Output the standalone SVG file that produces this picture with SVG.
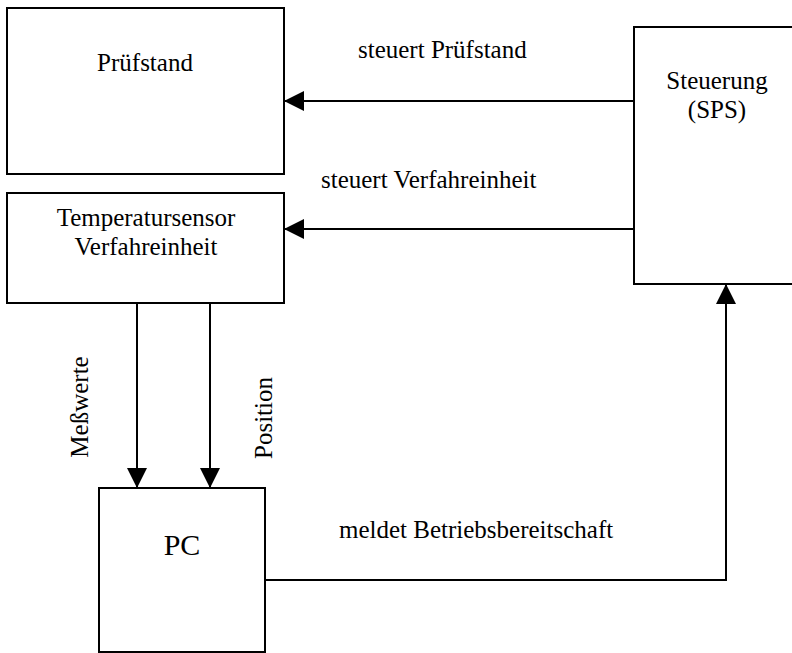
<svg xmlns="http://www.w3.org/2000/svg" width="792" height="653" viewBox="0 0 792 653">
  <style>
    .box { fill: #ffffff; stroke: #000000; stroke-width: 2; }
    .wire { fill: none; stroke: #000000; stroke-width: 2; }
    .lbl { font-family: "Liberation Serif", "Times New Roman", serif; font-size: 25px; fill: #000000; }
    .mid { text-anchor: middle; }
  </style>
  <defs>
    <marker id="head" markerUnits="userSpaceOnUse" markerWidth="20" markerHeight="20" viewBox="0 0 19 19" refX="19" refY="9.5" orient="auto">
      <path d="M0,0 L19,9.5 L0,19 Z" fill="#000000"/>
    </marker>
  </defs>
  <rect width="792" height="653" fill="#ffffff"/>

  <g id="pruefstand">
    <rect class="box" x="7" y="8" width="277" height="166"/>
    <text class="lbl mid" x="145" y="71">Prüfstand</text>
  </g>

  <g id="temperatursensor">
    <rect class="box" x="7" y="193" width="277" height="110"/>
    <text class="lbl mid" x="146" y="226">Temperatursensor</text>
    <text class="lbl mid" x="146" y="255">Verfahreinheit</text>
  </g>

  <g id="steuerung">
    <rect class="box" x="634" y="27" width="162" height="257"/>
    <text class="lbl mid" x="717" y="89">Steuerung</text>
    <text class="lbl mid" x="717" y="118">(SPS)</text>
  </g>

  <g id="pc">
    <rect class="box" x="99" y="488" width="166" height="164"/>
    <text class="lbl mid" x="182" y="555" style="font-size:30px">PC</text>
  </g>

  <g id="connectors">
    <path class="wire" d="M634,101 H284" marker-end="url(#head)"/>
    <path class="wire" d="M634,229 H284" marker-end="url(#head)"/>
    <path class="wire" d="M137,303 V488" marker-end="url(#head)"/>
    <path class="wire" d="M210,303 V488" marker-end="url(#head)"/>
    <path class="wire" d="M265,580 H726 V284" marker-end="url(#head)"/>
    <text class="lbl" x="358" y="58">steuert Prüfstand</text>
    <text class="lbl" x="321" y="188">steuert Verfahreinheit</text>
    <text class="lbl mid" transform="translate(88,407) rotate(-90)">Meßwerte</text>
    <text class="lbl mid" transform="translate(272,418) rotate(-90)">Position</text>
    <text class="lbl" x="339" y="538">meldet Betriebsbereitschaft</text>
  </g>
</svg>
